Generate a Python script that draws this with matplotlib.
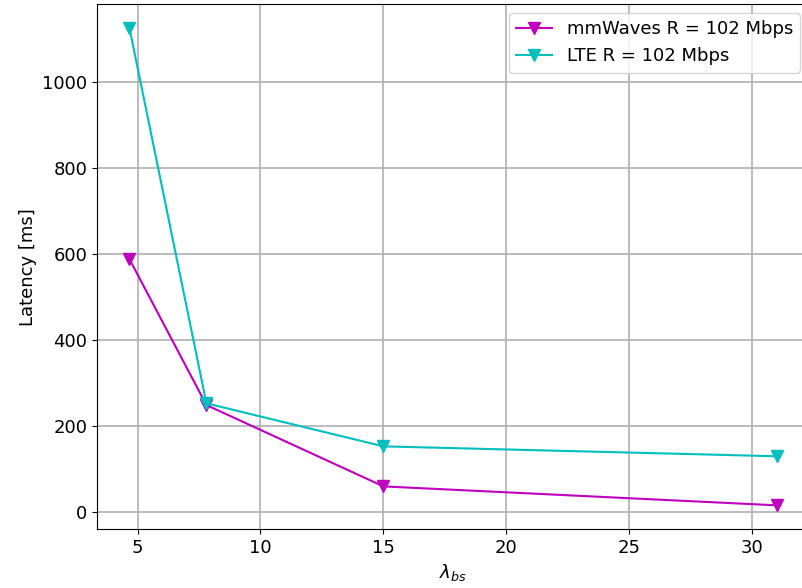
import matplotlib
matplotlib.use("Agg")
import matplotlib.pyplot as plt

# densita' stazioni base
lambda_bs = [4.67, 7.8, 15.0, 31.0]
# latenza [ms]
lat_mmw = [588, 249, 60, 16]
lat_lte = [1125, 253, 153, 130]

plt.rcParams['font.size'] = 13

fig = plt.figure(figsize=(8.02, 5.88), dpi=100)
ax = fig.add_subplot(111)
fig.subplots_adjust(left=0.121, right=1.009, top=0.993, bottom=0.1)
ax.grid(linewidth=1.2, color='#b0b0b0')
ax.plot(lambda_bs, lat_mmw, 'v-', color='m', markersize=9, label='mmWaves R = 102 Mbps')
ax.plot(lambda_bs, lat_lte, 'v-', color='c', markersize=9, label='LTE R = 102 Mbps')
ax.set_xlabel(r'$\lambda_{bs}$')
ax.set_ylabel('Latency [ms]')
ax.legend(loc='upper right')

fig.savefig('out.png', dpi=100)
